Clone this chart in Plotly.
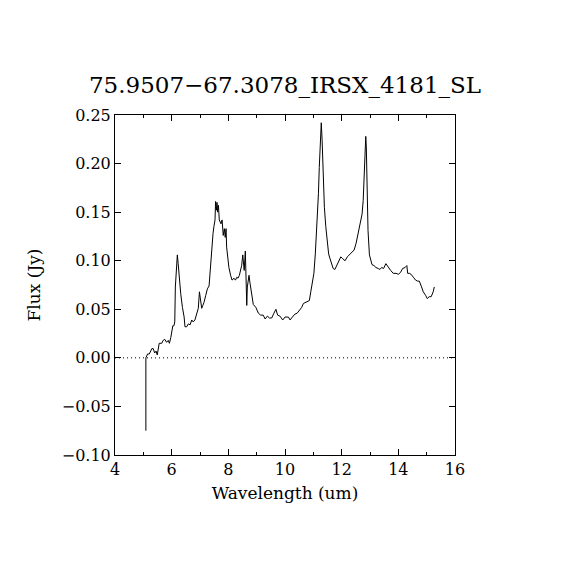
import plotly.graph_objects as go

# spectrum
wavelength = [
    5.09, 5.09, 5.15, 5.21, 5.30, 5.35, 5.40, 5.45, 5.49, 5.56, 5.65, 5.70, 5.76,
    5.82, 5.88, 5.92, 5.97, 6.00, 6.04, 6.08, 6.11, 6.13, 6.18, 6.20, 6.23, 6.27,
    6.32, 6.38, 6.44, 6.47, 6.53, 6.59, 6.65, 6.71, 6.76, 6.82, 6.88, 6.94, 6.98,
    7.01, 7.06, 7.10, 7.14, 7.20, 7.26, 7.32, 7.35, 7.39, 7.42, 7.46, 7.49, 7.53,
    7.55, 7.58, 7.60, 7.62, 7.65, 7.68, 7.74, 7.78, 7.82, 7.86, 7.89, 7.92, 7.94,
    7.98, 8.02, 8.08, 8.13, 8.20, 8.25, 8.30, 8.34, 8.39, 8.44, 8.47, 8.51, 8.53,
    8.56, 8.60, 8.62, 8.65, 8.67, 8.69, 8.73, 8.76, 8.82, 8.88, 8.97, 9.06, 9.14,
    9.23, 9.30, 9.38, 9.45, 9.53, 9.61, 9.68, 9.74, 9.82, 9.92, 10.00, 10.12,
    10.18, 10.26, 10.35, 10.43, 10.50, 10.59, 10.65, 10.77, 10.86, 10.91, 10.96,
    11.02, 11.07, 11.12, 11.18, 11.21, 11.25, 11.27, 11.28, 11.31, 11.35, 11.39,
    11.44, 11.49, 11.54, 11.59, 11.65, 11.70, 11.76, 11.82, 11.88, 11.97, 12.04,
    12.12, 12.20, 12.27, 12.35, 12.44, 12.51, 12.55, 12.62, 12.68, 12.72, 12.76,
    12.80, 12.82, 12.85, 12.87, 12.89, 12.93, 12.98, 13.02, 13.07, 13.14, 13.21,
    13.29, 13.35, 13.41, 13.48, 13.56, 13.65, 13.73, 13.82, 13.92, 14.00, 14.08,
    14.15, 14.24, 14.30, 14.33, 14.39, 14.45, 14.53, 14.61, 14.68, 14.74, 14.82,
    14.88, 14.97, 15.02, 15.09, 15.16, 15.23, 15.27,
]
flux = [
    -0.075, 0.000, 0.004, 0.004, 0.0095, 0.0095, 0.005, 0.007, 0.003, 0.015, 0.015,
    0.018, 0.019, 0.016, 0.018, 0.015, 0.021, 0.026, 0.033, 0.033, 0.037, 0.073,
    0.097, 0.106, 0.097, 0.080, 0.066, 0.052, 0.042, 0.032, 0.032, 0.035, 0.034,
    0.039, 0.037, 0.039, 0.044, 0.051, 0.068, 0.059, 0.051, 0.054, 0.057, 0.064,
    0.071, 0.074, 0.087, 0.102, 0.111, 0.128, 0.135, 0.142, 0.161, 0.152, 0.160,
    0.150, 0.157, 0.142, 0.138, 0.142, 0.126, 0.133, 0.124, 0.133, 0.114, 0.100,
    0.093, 0.085, 0.080, 0.082, 0.080, 0.083, 0.082, 0.085, 0.090, 0.095, 0.106,
    0.097, 0.090, 0.110, 0.087, 0.054, 0.073, 0.080, 0.085, 0.078, 0.066, 0.055,
    0.052, 0.046, 0.044, 0.044, 0.040, 0.043, 0.041, 0.041, 0.046, 0.050, 0.044,
    0.043, 0.039, 0.042, 0.042, 0.039, 0.042, 0.045, 0.046, 0.049, 0.052, 0.056,
    0.058, 0.059, 0.068, 0.078, 0.087, 0.107, 0.131, 0.169, 0.196, 0.220, 0.234,
    0.242, 0.224, 0.186, 0.155, 0.135, 0.119, 0.107, 0.102, 0.097, 0.092, 0.091,
    0.095, 0.099, 0.104, 0.102, 0.100, 0.104, 0.106, 0.108, 0.111, 0.118, 0.124,
    0.135, 0.142, 0.148, 0.162, 0.186, 0.210, 0.228, 0.217, 0.169, 0.131, 0.106,
    0.102, 0.096, 0.095, 0.093, 0.092, 0.091, 0.093, 0.092, 0.097, 0.093, 0.090,
    0.087, 0.087, 0.086, 0.088, 0.092, 0.093, 0.095, 0.087, 0.087, 0.086, 0.083,
    0.080, 0.079, 0.079, 0.073, 0.068, 0.064, 0.061, 0.063, 0.063, 0.068, 0.073,
]

title_text = "75.9507\u221267.3078_IRSX_4181_SL"
font_name = "DejaVu Serif"

fig = go.Figure()
fig.add_trace(go.Scatter(x=wavelength, y=flux, mode="lines",
                         line=dict(color="black", width=1), showlegend=False))

# dotted zero line
fig.add_hline(y=0, line=dict(color="black", width=1, dash="1px,3px"))

axis_common = dict(
    showgrid=False, zeroline=False, showline=True, linecolor="black",
    linewidth=1, mirror="ticks", ticks="inside", tickcolor="black",
    ticklen=6, tickwidth=1,
    tickfont=dict(family=font_name, size=16, color="black"),
)

fig.update_xaxes(range=[4, 16], dtick=2, tick0=4,
                 minor=dict(ticks="inside", dtick=1, ticklen=3,
                            tickcolor="black", showgrid=False),
                 title=dict(text="Wavelength (um)", standoff=8,
                            font=dict(family=font_name, size=17, color="black")),
                 **axis_common)
fig.update_yaxes(range=[-0.10, 0.25], dtick=0.05, tick0=0, tickformat=".2f",
                 title=dict(text="Flux (Jy)", standoff=16,
                            font=dict(family=font_name, size=17, color="black")),
                 **axis_common)

fig.update_layout(
    width=562, height=562,
    margin=dict(l=107, r=115, t=107, b=115),
    paper_bgcolor="white", plot_bgcolor="white",
    title=dict(text=title_text, x=(285 - 8) / 562, xanchor="center",
               y=1 - 77 / 562, yanchor="middle",
               font=dict(family=font_name, size=23, color="black")),
)

fig.write_html("out.html")
